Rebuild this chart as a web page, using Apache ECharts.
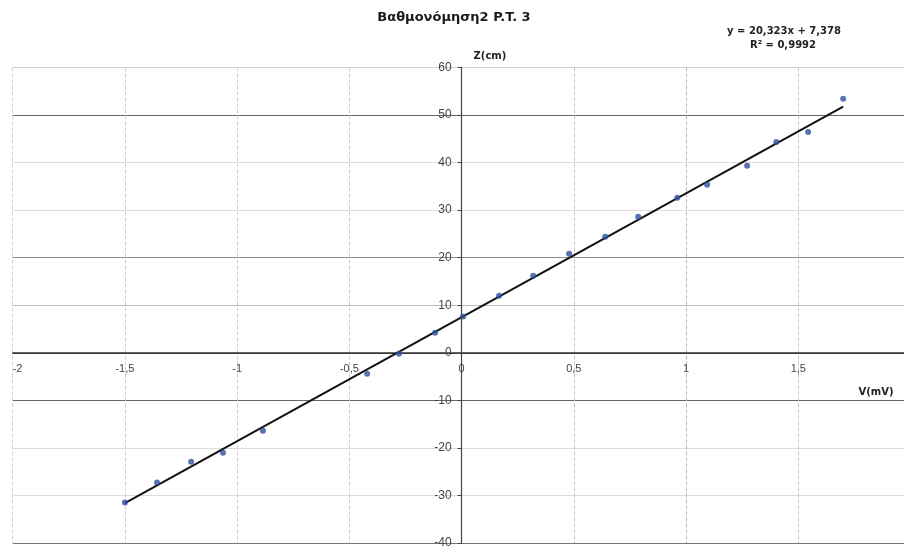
<!DOCTYPE html>
<html>
<head>
<meta charset="utf-8">
<script src="https://cdn.jsdelivr.net/npm/echarts@6/dist/echarts.min.js"></script>
<style>html,body{margin:0;padding:0;background:#fff}#c{width:904px;height:546px}</style>
</head>
<body>
<div id="c"></div>
<script>
const titleText = 'Βαθμονόμηση2 P.T. 3';
const xName = 'V(mV)';
const yName = 'Z(cm)';
const equationText = 'y = 20,323x + 7,378';
const r2Text = 'R² = 0,9992';
const vValues = [-1.50, -1.357, -1.205, -1.063, -0.885, -0.421, -0.279, -0.118, 0.007, 0.167, 0.319, 0.479, 0.64, 0.787, 0.961, 1.094, 1.272, 1.402, 1.544, 1.70];
const zValues = [-31.5, -27.3, -22.9, -21.0, -16.4, -4.4, -0.2, 4.2, 7.6, 12.0, 16.2, 20.8, 24.4, 28.6, 32.6, 35.3, 39.3, 44.3, 46.4, 53.4];

const points = vValues.map((v, i) => [v, zValues[i]]);
// least-squares trend line from the data
const n = vValues.length;
const mx = vValues.reduce((a, b) => a + b, 0) / n;
const my = zValues.reduce((a, b) => a + b, 0) / n;
let sxy = 0, sxx = 0;
for (let i = 0; i < n; i++) { sxy += (vValues[i] - mx) * (zValues[i] - my); sxx += (vValues[i] - mx) ** 2; }
const slope = sxy / sxx, intercept = my - slope * mx;
const xMin = Math.min(...vValues), xMax = Math.max(...vValues);
const trend = [[xMin, slope * xMin + intercept], [xMax, slope * xMax + intercept]];

const fmt = v => String(v).replace('.', ',');
const font = '"Liberation Sans", Arial, sans-serif';
const boldFont = '"DejaVu Sans", sans-serif';

const GRID_L = 12.7, GRID_R = -6.5, GRID_T = 67.4, GRID_B = 3;
const W = 904, H = 546;
const plotW = W - GRID_L - GRID_R, plotH = H - GRID_T - GRID_B;
const X_MIN = -2, X_MAX = 2, Y_MIN = -40, Y_MAX = 60;
const yAxisOffset = -plotW * (0 - X_MIN) / (X_MAX - X_MIN);
const xAxisOffset = -plotH * (0 - Y_MIN) / (Y_MAX - Y_MIN);

const chart = echarts.init(document.getElementById('c'));
chart.setOption({
  backgroundColor: '#fff',
  animation: false,
  title: {
    text: titleText, left: 449, top: 6, textAlign: 'center',
    textStyle: { fontFamily: boldFont, fontSize: 13, fontWeight: 'bold', color: '#1a1a1a' }
  },
  grid: { left: GRID_L, right: GRID_R, top: GRID_T, bottom: GRID_B, outerBoundsMode: 'none' },
  xAxis: {
    type: 'value', min: X_MIN, max: X_MAX, interval: 0.5,
    position: 'bottom', offset: xAxisOffset,
    axisLine: { onZero: false, lineStyle: { color: '#333', width: 1.5 } },
    axisTick: { show: false },
    axisLabel: { formatter: fmt, color: '#444', fontFamily: font, fontSize: 11, margin: 11, alignMinLabel: 'left' },
    splitLine: { show: true, lineStyle: { color: ['#d4d4d4', '#cfcfcf', '#d0d0d0', '#cfcfcf', '#999', '#c4c4c4', '#b8b8b8', '#c8c8c8'], type: [4, 2], width: 1 } }
  },
  yAxis: {
    type: 'value', min: Y_MIN, max: Y_MAX, interval: 10,
    position: 'left', offset: yAxisOffset,
    name: yName, nameLocation: 'end', nameGap: 6,
    nameTextStyle: { fontFamily: boldFont, fontSize: 10, fontWeight: 'bold', color: '#222', align: 'left', padding: [0, 0, 0, 12] },
    axisLine: { onZero: false, lineStyle: { color: '#444', width: 1.2 } },
    axisTick: { show: true, length: 4, lineStyle: { color: '#444' } },
    axisLabel: { formatter: fmt, color: '#444', fontFamily: font, fontSize: 12, margin: 10 },
    splitLine: { show: true, lineStyle: { color: ['#777', '#dcdcdc', '#dcdcdc', '#666', '#444', '#bdbdbd', '#8a8a8a', '#dcdcdc', '#dcdcdc', '#666', '#d0d0d0'], width: 1 } }
  },
  graphic: [
    { type: 'text', x: 876, y: 387, style: { text: xName, font: 'bold 10px ' + boldFont, fill: '#222', align: 'center' } },
    { type: 'text', x: 784, y: 26, style: { text: equationText, font: 'bold 10px ' + boldFont, fill: '#222', align: 'center' } },
    { type: 'text', x: 783, y: 40, style: { text: r2Text, font: 'bold 10px ' + boldFont, fill: '#222', align: 'center' } }
  ],
  series: [
    {
      type: 'line', data: trend, symbol: 'none', silent: true,
      lineStyle: { color: '#111', width: 2 }, z: 2
    },
    {
      type: 'scatter', data: points, symbol: 'circle', symbolSize: 6,
      itemStyle: { color: '#2f4f9f' }, z: 3
    }
  ]
});
</script>
</body>
</html>
